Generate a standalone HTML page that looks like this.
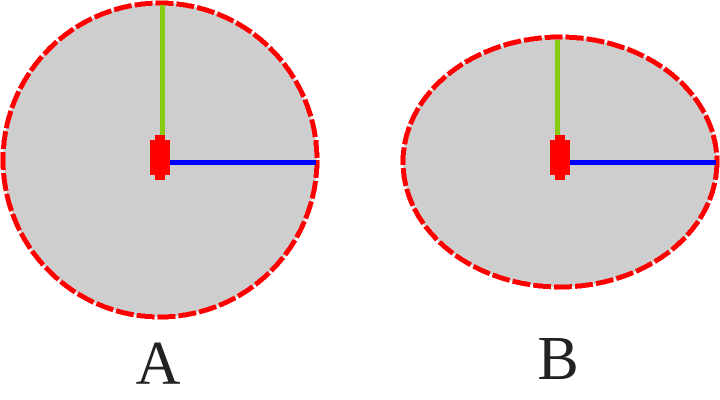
<!DOCTYPE html>
<html><head><meta charset="utf-8"><style>
html,body{margin:0;padding:0;background:#fff;width:720px;height:400px;overflow:hidden}
svg{display:block}
</style></head><body>
<svg width="720" height="400" viewBox="0 0 720 400" shape-rendering="crispEdges">
<g>
<ellipse cx="160" cy="160" rx="157" ry="157" fill="#cecece" stroke="#ff0000" stroke-width="5" stroke-dasharray="18 3"/>
<rect x="160" y="5" width="5" height="132" fill="#88cc11"/>
<rect x="168" y="160" width="148" height="5" fill="#0000ff"/>
<rect x="150" y="140" width="20" height="35" fill="#ff0000"/>
<rect x="155" y="135" width="10" height="45" fill="#ff0000"/>
<text x="158" y="384" font-family="Liberation Serif, serif" font-size="62" text-anchor="middle" fill="#222">A</text>
</g>
<g>
<ellipse cx="560" cy="162" rx="157" ry="125" fill="#cecece" stroke="#ff0000" stroke-width="5" stroke-dasharray="18 3"/>
<rect x="555" y="40" width="5" height="97" fill="#88cc11"/>
<rect x="568" y="160" width="148" height="5" fill="#0000ff"/>
<rect x="550" y="140" width="20" height="35" fill="#ff0000"/>
<rect x="555" y="135" width="10" height="45" fill="#ff0000"/>
<text x="558" y="379" font-family="Liberation Serif, serif" font-size="62" text-anchor="middle" fill="#222">B</text>
</g>
</svg>
</body></html>
